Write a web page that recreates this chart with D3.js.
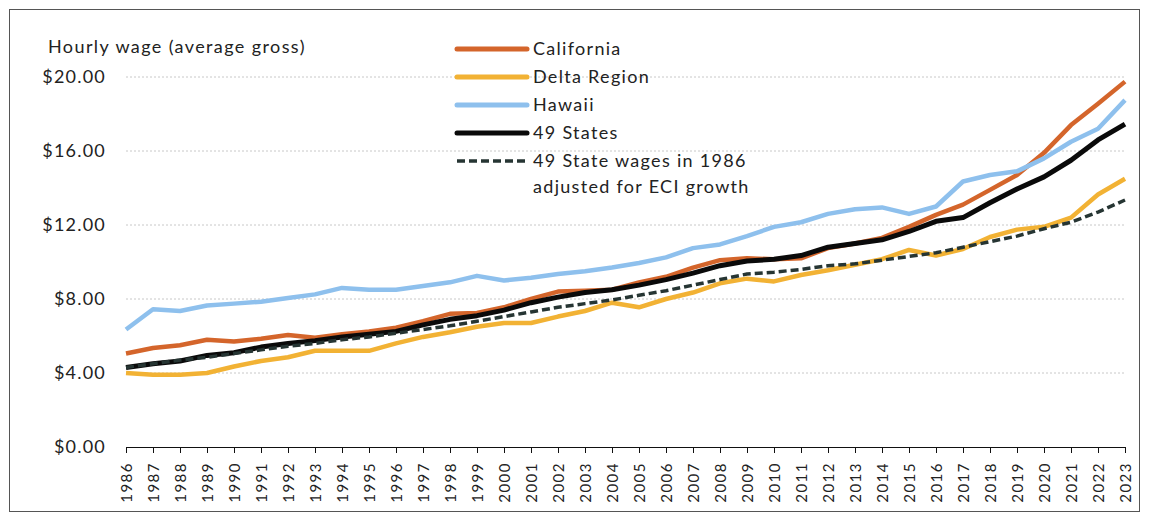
<!DOCTYPE html>
<html><head><meta charset="utf-8">
<script src="https://cdn.jsdelivr.net/npm/d3@7"></script>
<style>body{margin:0;background:#fff}svg{display:block}text{font-family:Lato,"Open Sans",sans-serif;fill:#222}</style>
</head><body><svg id="c" width="1150" height="518"></svg>
<script>
const years = d3.range(1986, 2024);
const california = [5.05,5.35,5.5,5.8,5.7,5.85,6.05,5.9,6.1,6.25,6.45,6.8,7.2,7.25,7.55,8.0,8.4,8.45,8.5,8.9,9.2,9.7,10.1,10.2,10.15,10.2,10.75,11.0,11.3,11.9,12.55,13.1,13.9,14.7,15.9,17.4,18.55,19.75];
const delta = [4.0,3.9,3.9,4.0,4.35,4.65,4.85,5.2,5.2,5.2,5.6,5.95,6.2,6.5,6.7,6.7,7.05,7.35,7.8,7.55,8.0,8.35,8.85,9.1,8.95,9.3,9.55,9.85,10.15,10.65,10.35,10.7,11.35,11.75,11.9,12.4,13.65,14.5];
const hawaii = [6.35,7.45,7.35,7.65,7.75,7.85,8.05,8.25,8.6,8.5,8.5,8.7,8.9,9.25,9.0,9.15,9.35,9.5,9.7,9.95,10.25,10.75,10.95,11.4,11.9,12.15,12.6,12.85,12.95,12.6,13.0,14.35,14.7,14.9,15.6,16.5,17.2,18.75];
const states49 = [4.3,4.5,4.65,4.95,5.1,5.4,5.6,5.75,5.95,6.1,6.25,6.6,6.9,7.1,7.4,7.8,8.1,8.35,8.5,8.75,9.05,9.4,9.8,10.05,10.15,10.35,10.8,11.0,11.2,11.65,12.2,12.4,13.2,13.95,14.6,15.5,16.6,17.45];
const eciAdjusted = [4.3,4.5,4.7,4.85,5.05,5.25,5.45,5.6,5.8,5.95,6.15,6.35,6.55,6.8,7.05,7.3,7.55,7.75,7.95,8.2,8.45,8.75,9.05,9.35,9.45,9.6,9.8,9.9,10.1,10.3,10.5,10.8,11.1,11.4,11.8,12.15,12.7,13.35];
const yTicks = [0,4,8,12,16,20];
const seriesNames = ["California","Delta Region","Hawaii","49 States","49 State wages in 1986|adjusted for ECI growth"];

const series = [
  {name:seriesNames[0], values:california, color:"#D4652B", width:4.5, dash:null},
  {name:seriesNames[1], values:delta, color:"#F2B234", width:4.5, dash:null},
  {name:seriesNames[2], values:hawaii, color:"#8EC0ED", width:4.5, dash:null},
  {name:seriesNames[3], values:states49, color:"#0a0a0a", width:5, dash:null},
  {name:seriesNames[4], values:eciAdjusted, color:"#263533", width:3.5, dash:"8,4"}
];

const svg = d3.select("#c");
svg.append("rect").attr("x",9.5).attr("y",9.5).attr("width",1130).attr("height",502)
  .attr("fill","none").attr("stroke","#555").attr("stroke-width",1);

const x = d3.scalePoint().domain(years).range([126,1125]);
const y = d3.scaleLinear().domain([0,20]).range([447,77]);

svg.append("g").selectAll("line").data(yTicks.filter(d=>d>0)).join("line")
  .attr("x1",126).attr("x2",1125).attr("y1",d=>y(d)).attr("y2",d=>y(d))
  .attr("stroke","#c8c8c8").attr("stroke-width",1).attr("stroke-dasharray","2,2");

svg.append("g").selectAll("text").data(yTicks).join("text")
  .attr("x",106).attr("y",d=>y(d)+6).attr("text-anchor","end")
  .attr("font-size",18).attr("letter-spacing","1.2px").text(d=>"$"+d3.format(".2f")(d));

svg.append("text").attr("x",48).attr("y",53).attr("font-size",18).attr("letter-spacing","1.4px")
  .text("Hourly wage (average gross)");

const xa = svg.append("g").attr("transform","translate(0,447)")
  .call(d3.axisBottom(x).tickSize(6).tickSizeOuter(0).tickPadding(4));
xa.select(".domain").attr("stroke","#111").attr("stroke-width",1.2);
xa.selectAll(".tick line").attr("stroke","#111");
xa.selectAll(".tick text").attr("font-size",15).attr("fill","#222")
  .attr("font-family","Lato, sans-serif").attr("letter-spacing","1.5px")
  .attr("transform","rotate(-90)").attr("text-anchor","end")
  .attr("x",-15).attr("y",0).attr("dy","0.35em");

const line = d3.line().x((d,i)=>x(years[i])).y(d=>y(d));
svg.append("g").selectAll("path").data(series).join("path")
  .attr("d",d=>line(d.values)).attr("fill","none")
  .attr("stroke",d=>d.color).attr("stroke-width",d=>d.width)
  .attr("stroke-dasharray",d=>d.dash).attr("stroke-linejoin","round");

const lg = svg.append("g");
series.forEach((s,i)=>{
  const yy = 49 + i*28;
  lg.append("line").attr("x1",457).attr("x2",527).attr("y1",yy).attr("y2",yy)
    .attr("stroke",s.color).attr("stroke-width",s.dash?3.5:5).attr("stroke-dasharray",s.dash)
    .attr("stroke-linecap", s.dash?null:"round");
  s.name.split("|").forEach((p,j)=>{
    lg.append("text").attr("x",533).attr("y",yy+6+j*26).attr("font-size",18)
      .attr("letter-spacing","1.3px").text(p);
  });
});
</script></body></html>
